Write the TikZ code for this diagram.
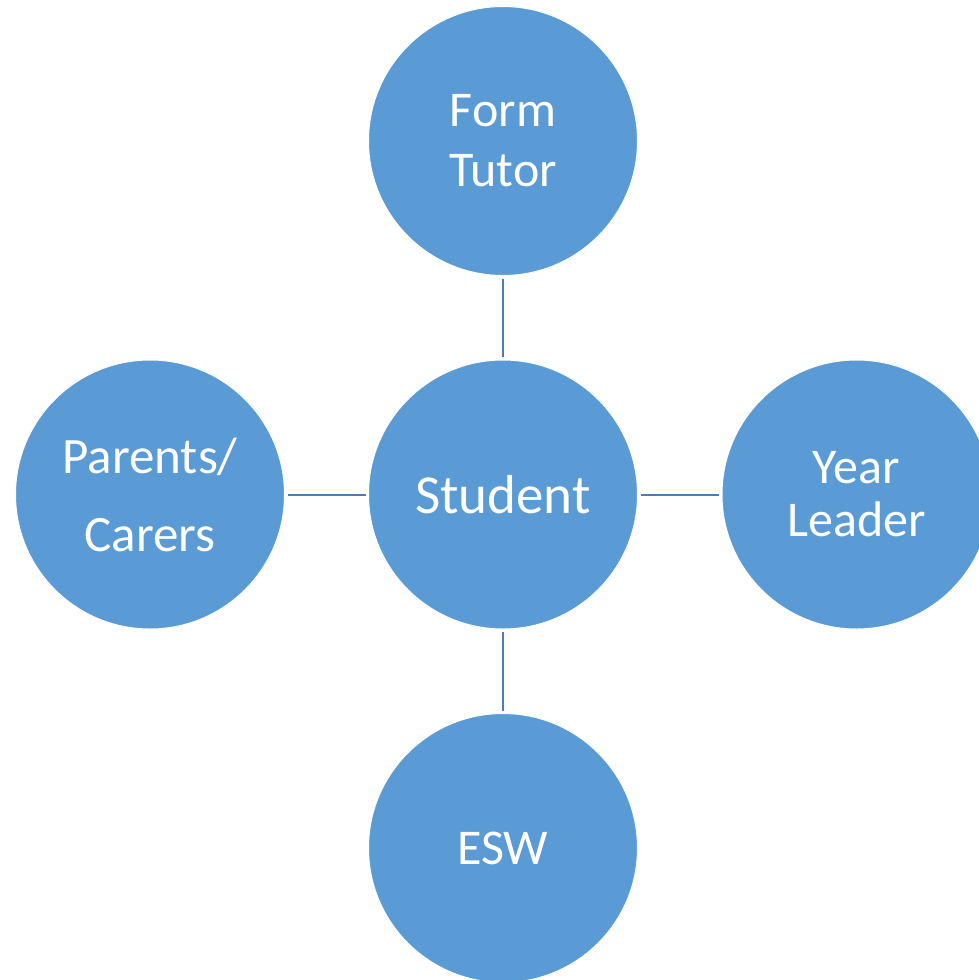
\documentclass[tikz,border=0pt]{standalone}
\usepackage{fontspec}
\setmainfont{Carlito}
\definecolor{circfill}{HTML}{5B9BD5}
\definecolor{linkcol}{HTML}{4A7EB5}
\begin{document}
\begin{tikzpicture}[x=1pt,y=-1pt,
  bubble/.style={circle,fill=circfill,draw=white,line width=1pt,minimum size=269pt,inner sep=0pt,text=white,align=center,font=\fontsize{50}{60}\selectfont},
  link/.style={draw=linkcol,line width=2pt,shorten <=2.5pt,shorten >=2.5pt}]
\useasboundingbox (0,0) rectangle (979,980);
\clip (0,0) rectangle (979,980);
\node[bubble] (top) at (503,141) {Form\\Tutor};
\node[bubble,font=\fontsize{55}{60}\selectfont] (mid) at (503,494.5) {Student};
\node[bubble,font=\fontsize{51}{78}\selectfont] (left) at (150,494.5) {Parents/\\Carers};
\node[bubble,font=\fontsize{50}{53}\selectfont] (right) at (856.5,494.5) {Year\\Leader};
\node[bubble] (bot) at (503,848) {ESW};
\draw[link] (top) -- (mid);
\draw[link] (mid) -- (left);
\draw[link] (mid) -- (right);
\draw[link] (mid) -- (bot);
\end{tikzpicture}
\end{document}
